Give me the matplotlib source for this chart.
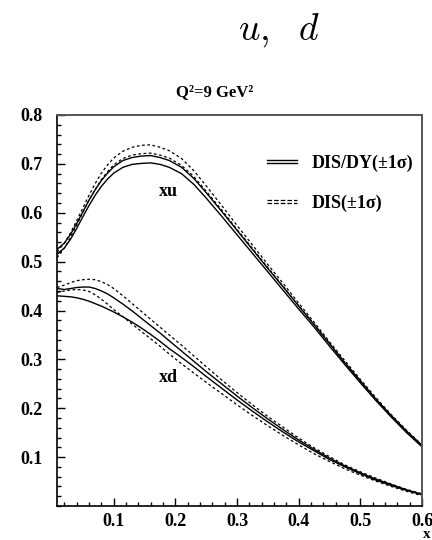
import numpy as np
import matplotlib
matplotlib.use("Agg")
import matplotlib.pyplot as plt
from matplotlib.lines import Line2D
from matplotlib.legend_handler import HandlerBase
from matplotlib.ticker import MultipleLocator, FixedLocator

# ---------------- data ----------------
x = [0.008, 0.02, 0.03, 0.04, 0.05, 0.06, 0.07, 0.08, 0.09, 0.10, 0.115, 0.13,
     0.145, 0.16, 0.175, 0.19, 0.21, 0.23, 0.25, 0.275, 0.3, 0.325, 0.35, 0.375,
     0.4, 0.425, 0.45, 0.475, 0.5, 0.525, 0.55, 0.575, 0.6]

# xu, DIS/DY (+-1 sigma), solid
xu_dy_lo = [0.515, 0.528, 0.546, 0.568, 0.592, 0.615, 0.636, 0.654, 0.669, 0.681, 0.693, 0.699,
            0.701, 0.702, 0.699, 0.693, 0.680, 0.658, 0.630, 0.593, 0.555, 0.517, 0.479, 0.441,
            0.403, 0.366, 0.327, 0.289, 0.252, 0.216, 0.182, 0.150, 0.121]
xu_dy_hi = [0.525, 0.538, 0.556, 0.578, 0.602, 0.626, 0.647, 0.666, 0.681, 0.694, 0.707, 0.713,
            0.716, 0.717, 0.713, 0.707, 0.693, 0.670, 0.641, 0.603, 0.564, 0.525, 0.486, 0.448,
            0.409, 0.371, 0.332, 0.293, 0.256, 0.219, 0.185, 0.153, 0.124]
# xu, DIS (+-1 sigma), dotted
xu_dis_hi = [0.520, 0.538, 0.559, 0.584, 0.610, 0.636, 0.660, 0.681, 0.698, 0.712, 0.726, 0.734,
             0.738, 0.739, 0.734, 0.727, 0.711, 0.686, 0.655, 0.615, 0.574, 0.534, 0.494, 0.455,
             0.415, 0.376, 0.336, 0.297, 0.259, 0.222, 0.187, 0.155, 0.125]
xu_dis_lo = [0.508, 0.528, 0.550, 0.575, 0.601, 0.626, 0.648, 0.668, 0.684, 0.698, 0.711, 0.718,
             0.721, 0.722, 0.718, 0.712, 0.697, 0.674, 0.644, 0.606, 0.566, 0.527, 0.488, 0.449,
             0.410, 0.372, 0.333, 0.293, 0.256, 0.219, 0.185, 0.153, 0.124]

# xd, DIS/DY (+-1 sigma), solid
xd_dy_hi = [0.445, 0.443, 0.445, 0.447, 0.448, 0.448, 0.445, 0.440, 0.434, 0.426, 0.413, 0.399,
            0.384, 0.369, 0.354, 0.338, 0.317, 0.296, 0.275, 0.250, 0.225, 0.201, 0.178, 0.156,
            0.135, 0.116, 0.098, 0.082, 0.068, 0.055, 0.044, 0.033, 0.024]
xd_dy_lo = [0.430, 0.429, 0.428, 0.426, 0.423, 0.419, 0.414, 0.409, 0.403, 0.397, 0.387, 0.376,
            0.364, 0.351, 0.337, 0.322, 0.304, 0.285, 0.265, 0.241, 0.217, 0.194, 0.172, 0.151,
            0.131, 0.113, 0.095, 0.080, 0.066, 0.053, 0.042, 0.032, 0.023]
# xd, DIS (+-1 sigma), dotted
xd_dis_hi = [0.447, 0.452, 0.457, 0.461, 0.463, 0.464, 0.463, 0.459, 0.453, 0.445, 0.430, 0.414,
             0.398, 0.382, 0.366, 0.350, 0.329, 0.307, 0.285, 0.258, 0.232, 0.207, 0.183, 0.161,
             0.139, 0.119, 0.101, 0.084, 0.070, 0.057, 0.045, 0.034, 0.025]
xd_dis_lo = [0.437, 0.440, 0.442, 0.443, 0.442, 0.439, 0.432, 0.423, 0.413, 0.402, 0.387, 0.372,
             0.357, 0.342, 0.327, 0.311, 0.291, 0.272, 0.253, 0.230, 0.207, 0.185, 0.164, 0.144,
             0.125, 0.107, 0.091, 0.076, 0.063, 0.051, 0.040, 0.030, 0.021]

xticks = [0.1, 0.2, 0.3, 0.4, 0.5, 0.6]
yticks = [0.1, 0.2, 0.3, 0.4, 0.5, 0.6, 0.7, 0.8]
legend_labels = ["DIS/DY(\u00b11\u03c3)", "DIS(\u00b11\u03c3)"]

# ---------------- style ----------------
SERIF = ["Liberation Serif", "DejaVu Serif"]
FS = 13
plt.rcParams["font.family"] = SERIF
plt.rcParams["font.weight"] = "bold"

fig = plt.figure(figsize=(4.32, 5.40), dpi=100)
ax = fig.add_axes([57 / 432, 34 / 540, 365 / 432, 391 / 540])

solid = dict(color="black", lw=1.0, ls="-")
dotted = dict(color="black", lw=0.9, ls=(0, (2.2, 2.0)))

for lo, hi in [(xu_dy_lo, xu_dy_hi), (xd_dy_lo, xd_dy_hi)]:
    ax.plot(x, lo, **solid)
    ax.plot(x, hi, **solid)
for lo, hi in [(xu_dis_lo, xu_dis_hi), (xd_dis_lo, xd_dis_hi)]:
    ax.plot(x, lo, **dotted)
    ax.plot(x, hi, **dotted)

ax.set_xlim(0.008, 0.6)
ax.set_ylim(0.0, 0.8)

ax.xaxis.set_major_locator(FixedLocator(xticks))
ax.yaxis.set_major_locator(FixedLocator(yticks))
ax.xaxis.set_minor_locator(MultipleLocator(0.02))
ax.yaxis.set_minor_locator(MultipleLocator(0.02))
ax.set_xticklabels([f"{v:.1f}" for v in xticks], fontsize=FS, fontweight="bold")
ax.set_yticklabels([f"{v:.1f}" for v in yticks], fontsize=FS, fontweight="bold")
ax.tick_params(which="both", direction="in", top=False, right=False, width=1.0)
ax.tick_params(which="major", length=5.5)
ax.tick_params(which="minor", length=2.8)
ax.tick_params(axis="y", pad=10)
ax.tick_params(axis="x", pad=5)

for s in ["left", "bottom"]:
    ax.spines[s].set_linewidth(1.2)
    ax.spines[s].set_color("black")
for s in ["top", "right"]:
    ax.spines[s].set_linewidth(1.4)
    ax.spines[s].set_color("#555555")

ax.text(0.188, 0.643, "xu", fontsize=FS, fontweight="bold", ha="center", va="center")
ax.text(0.188, 0.263, "xd", fontsize=FS, fontweight="bold", ha="center", va="center")


class DoubleLine(HandlerBase):
    def create_artists(self, legend, orig_handle, xdescent, ydescent,
                       width, height, fontsize, trans):
        y0 = height / 2 - ydescent
        arts = []
        for dy in (-1.1, 1.1):
            l = Line2D([-xdescent, width - xdescent], [y0 + dy, y0 + dy],
                       color="black", lw=orig_handle.get_linewidth(),
                       ls=orig_handle.get_linestyle(), transform=trans)
            arts.append(l)
        return arts


h1 = Line2D([], [], **solid)
h2 = Line2D([], [], color="black", lw=0.9, ls=(0, (1.5, 1.5)))
ax.legend([h1, h2], legend_labels, handler_map={Line2D: DoubleLine()},
          loc="upper left", bbox_to_anchor=(0.575, 0.899), frameon=False,
          prop=dict(family=SERIF, weight="bold", size=FS),
          handlelength=1.66, handletextpad=0.83, labelspacing=1.25, borderpad=0,
          borderaxespad=0)

fig.text(0.645, 0.945, r"$u,\ \ d$", fontsize=27, math_fontfamily="cm",
         ha="center", va="center")
fig.text(0.497, 0.830, "Q\u00b2=9 GeV\u00b2", fontsize=12, fontweight="bold",
         ha="center", va="center")
fig.text(427 / 432, 1 - 535 / 540, "x", fontsize=11, fontweight="bold",
         ha="center", va="center")

fig.savefig("out.png", dpi=100)
